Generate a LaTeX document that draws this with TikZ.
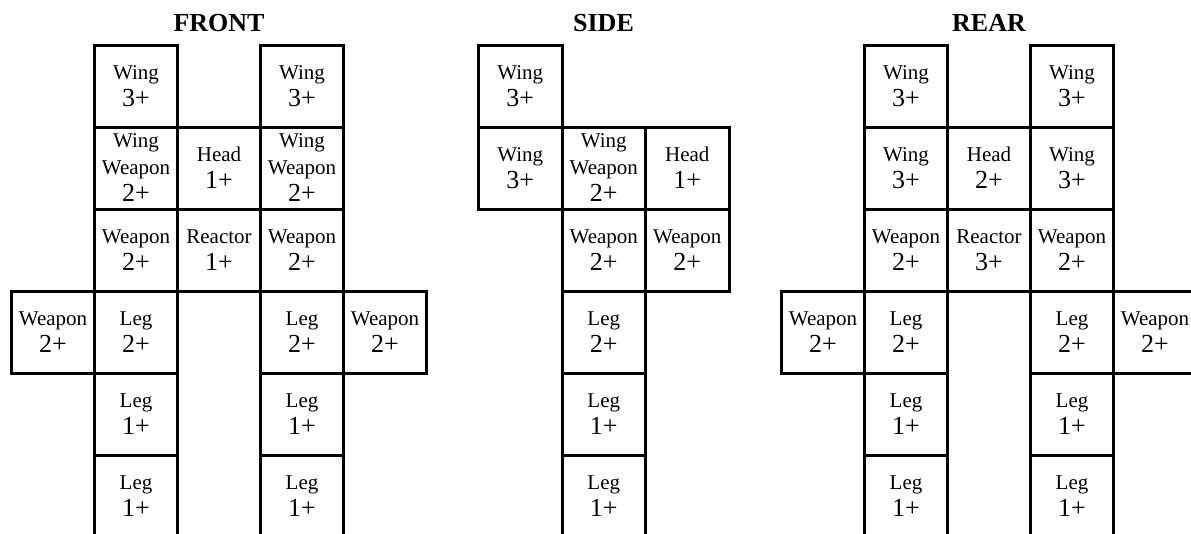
\documentclass[tikz,border=0pt]{standalone}
\usepackage{fontspec}
\setmainfont{Liberation Serif}
\newcommand\cnum[1]{{\fontsize{26}{27}\selectfont #1}}
\tikzset{
  cellbox/.style={draw, line width=3pt, minimum width=83pt, minimum height=82pt,
    inner sep=0pt, align=center, font=\fontsize{21}{27}\selectfont},
  cellboxs/.style={cellbox, minimum width=83.5pt},
  viewtitle/.style={anchor=base, inner sep=0pt, font=\fontsize{26}{30}\selectfont\bfseries}
}
\begin{document}
\begin{tikzpicture}[x=1pt,y=-1pt]
\useasboundingbox (0,0) rectangle (1191,533);
\clip (0,0) rectangle (1191,533);
% ---------- FRONT ----------
\node[viewtitle] (tfront) at (219,31.5) {FRONT};
\node[cellbox] (f11) at (136,86)  {Wing\\\cnum{3+}};
\node[cellbox] (f13) at (302,86)  {Wing\\\cnum{3+}};
\node[cellbox] (f21) at (136,168) {Wing\\Weapon\\\cnum{2+}};
\node[cellbox] (f22) at (219,168) {Head\\\cnum{1+}};
\node[cellbox] (f23) at (302,168) {Wing\\Weapon\\\cnum{2+}};
\node[cellbox] (f31) at (136,250) {Weapon\\\cnum{2+}};
\node[cellbox] (f32) at (219,250) {Reactor\\\cnum{1+}};
\node[cellbox] (f33) at (302,250) {Weapon\\\cnum{2+}};
\node[cellbox] (f40) at (53,332)  {Weapon\\\cnum{2+}};
\node[cellbox] (f41) at (136,332) {Leg\\\cnum{2+}};
\node[cellbox] (f43) at (302,332) {Leg\\\cnum{2+}};
\node[cellbox] (f44) at (385,332) {Weapon\\\cnum{2+}};
\node[cellbox] (f51) at (136,414) {Leg\\\cnum{1+}};
\node[cellbox] (f53) at (302,414) {Leg\\\cnum{1+}};
\node[cellbox] (f61) at (136,496) {Leg\\\cnum{1+}};
\node[cellbox] (f63) at (302,496) {Leg\\\cnum{1+}};
% ---------- SIDE ----------
\node[viewtitle] (tside) at (603.5,31.5) {SIDE};
\node[cellboxs] (s11) at (520.25,86)  {Wing\\\cnum{3+}};
\node[cellboxs] (s21) at (520.25,168) {Wing\\\cnum{3+}};
\node[cellboxs] (s22) at (603.75,168) {Wing\\Weapon\\\cnum{2+}};
\node[cellboxs] (s23) at (687.25,168) {Head\\\cnum{1+}};
\node[cellboxs] (s32) at (603.75,250) {Weapon\\\cnum{2+}};
\node[cellboxs] (s33) at (687.25,250) {Weapon\\\cnum{2+}};
\node[cellboxs] (s42) at (603.75,332) {Leg\\\cnum{2+}};
\node[cellboxs] (s52) at (603.75,414) {Leg\\\cnum{1+}};
\node[cellboxs] (s62) at (603.75,496) {Leg\\\cnum{1+}};
% ---------- REAR ----------
\node[viewtitle] (trear) at (989,31.5) {REAR};
\node[cellbox] (r11) at (906,86)  {Wing\\\cnum{3+}};
\node[cellbox] (r13) at (1072,86) {Wing\\\cnum{3+}};
\node[cellbox] (r21) at (906,168) {Wing\\\cnum{3+}};
\node[cellbox] (r22) at (989,168) {Head\\\cnum{2+}};
\node[cellbox] (r23) at (1072,168) {Wing\\\cnum{3+}};
\node[cellbox] (r31) at (906,250) {Weapon\\\cnum{2+}};
\node[cellbox] (r32) at (989,250) {Reactor\\\cnum{3+}};
\node[cellbox] (r33) at (1072,250) {Weapon\\\cnum{2+}};
\node[cellbox] (r40) at (823,332) {Weapon\\\cnum{2+}};
\node[cellbox] (r41) at (906,332) {Leg\\\cnum{2+}};
\node[cellbox] (r43) at (1072,332) {Leg\\\cnum{2+}};
\node[cellbox] (r44) at (1155,332) {Weapon\\\cnum{2+}};
\node[cellbox] (r51) at (906,414) {Leg\\\cnum{1+}};
\node[cellbox] (r53) at (1072,414) {Leg\\\cnum{1+}};
\node[cellbox] (r61) at (906,496) {Leg\\\cnum{1+}};
\node[cellbox] (r63) at (1072,496) {Leg\\\cnum{1+}};
\end{tikzpicture}
\end{document}
